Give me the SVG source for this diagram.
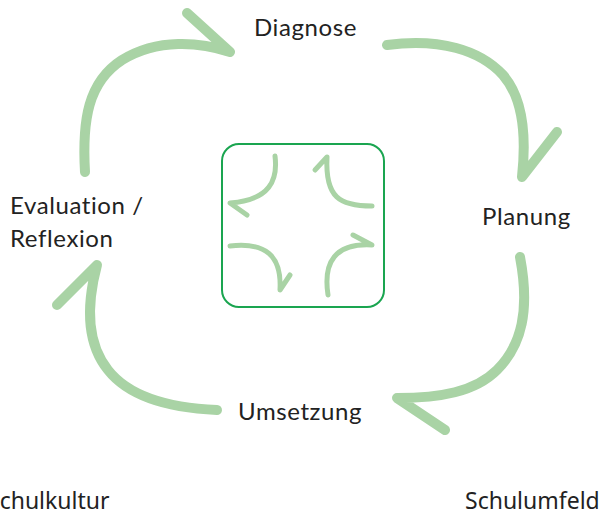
<svg xmlns="http://www.w3.org/2000/svg" width="602" height="518" viewBox="0 0 602 518">
<defs>
<style>
.big{fill:none;stroke:#a9d3a5;stroke-width:10;stroke-linecap:round;stroke-linejoin:round}
.small{fill:none;stroke:#a9d3a5;stroke-width:5;stroke-linecap:round;stroke-linejoin:round}
.lbl{font-family:Lato,"Noto Sans",sans-serif;font-size:24px;letter-spacing:0.6px;fill:#222222}
.ctx{font-family:"Noto Sans","Open Sans",sans-serif;font-size:23px;fill:#222222}
.box{fill:#ffffff;stroke:#1aa550;stroke-width:2}
</style>
</defs>
<rect width="602" height="518" fill="#ffffff"/>
<g id="connectors">
<path class="big" d="M85,172 C82,120 88,82 122,60 C158,38 200,42 230,52 L187,13"/>
<path class="big" d="M387,45 C440,38 480,50 503,75 C525,100 526,140 522,177 L557,132"/>
<path class="big" d="M520,257 C530,310 522,345 497,370 C475,392 440,398 397,398 L445,430"/>
<path class="big" d="M217,410 C170,408 130,398 108,370 C88,345 85,310 97,265 L57,305"/>
</g>
<g id="center">
<rect class="box" x="222" y="144" width="162" height="163" rx="17"/>
<path class="small" d="M275,156 C278,180 270,200 230,203 L247,215"/>
<path class="small" d="M372,206 C340,206 325,198 327,157 L315,170"/>
<path class="small" d="M230,246 C265,242 282,255 280,290 L290,275"/>
<path class="small" d="M328,295 C323,262 335,243 372,245 L353,235"/>
</g>
<g id="diagnose"><text class="lbl" x="254" y="36">Diagnose</text></g>
<g id="planung"><text class="lbl" x="482" y="225">Planung</text></g>
<g id="umsetzung"><text class="lbl" x="238" y="420">Umsetzung</text></g>
<g id="evaluation"><text class="lbl" x="10" y="214">Evaluation /</text><text class="lbl" x="10" y="247">Reflexion</text></g>
<g id="schulkultur"><text class="ctx" x="-13" y="509">Schulkultur</text></g>
<g id="schulumfeld"><text class="ctx" x="465" y="509">Schulumfeld</text></g>
</svg>
